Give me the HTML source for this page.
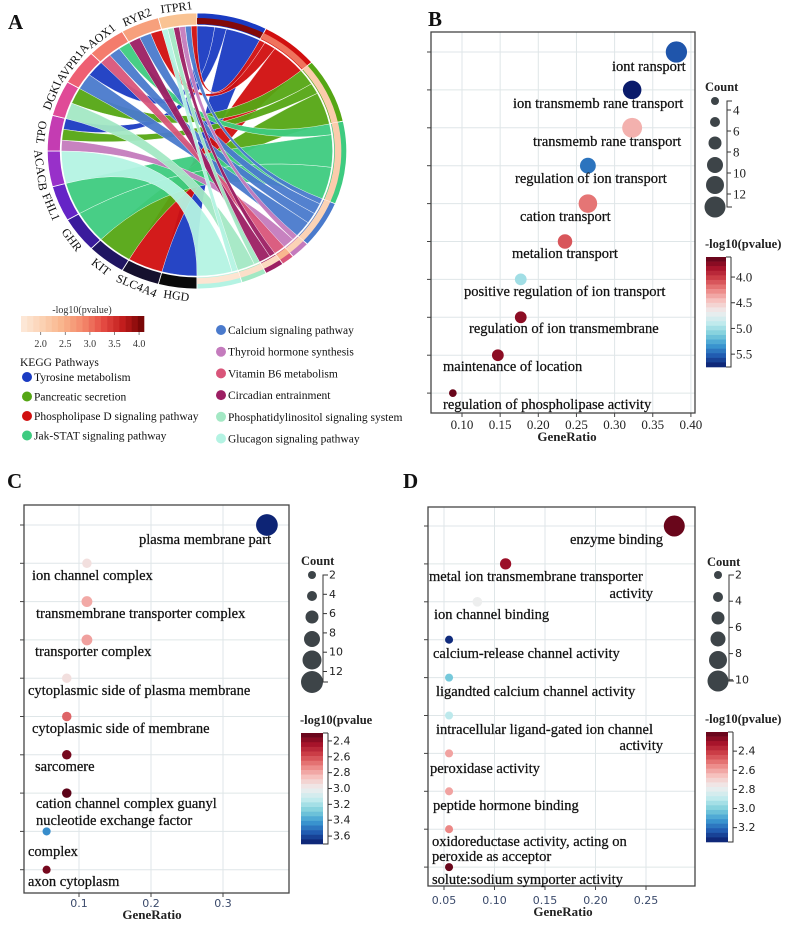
<!DOCTYPE html>
<html><head><meta charset="utf-8">
<style>
html,body{margin:0;padding:0;background:#fff;}
svg{display:block;font-family:"Liberation Serif",serif;}
</style></head>
<body>
<svg id="fig" width="791" height="931" viewBox="0 0 791 931" xmlns="http://www.w3.org/2000/svg"></svg>
<script>
// ---------- Panel A data ----------
const genes = ['HGD','SLC4A4','KIT','GHR','FHL1','ACACB','TPO','DGKI','AVPR1A','AOX1','RYR2','ITPR1'];
const pathways = ['Tyrosine metabolism','Phospholipase D signaling pathway','Pancreatic secretion','Jak-STAT signaling pathway','Calcium signaling pathway','Thyroid hormone synthesis','Vitamin B6 metabolism','Circadian entrainment','Phosphatidylinositol signaling system','Glucagon signaling pathway'];
const pathwayLogP = [4.0, 3.0, 2.1, 2.1, 2.0, 2.0, 2.4, 1.9, 1.8, 1.7];
const linkGene = ['HGD','SLC4A4','KIT','GHR','FHL1','ACACB','TPO','TPO','TPO','DGKI','DGKI','AVPR1A','AVPR1A','AOX1','AOX1','AOX1','RYR2','RYR2','RYR2','ITPR1','ITPR1','ITPR1','ITPR1','ITPR1','ITPR1'];
const linkPath = ['Tyrosine metabolism','Phospholipase D signaling pathway','Pancreatic secretion','Jak-STAT signaling pathway','Jak-STAT signaling pathway','Glucagon signaling pathway','Tyrosine metabolism','Thyroid hormone synthesis','Pancreatic secretion','Pancreatic secretion','Phosphatidylinositol signaling system','Calcium signaling pathway','Tyrosine metabolism','Jak-STAT signaling pathway','Vitamin B6 metabolism','Calcium signaling pathway','Phospholipase D signaling pathway','Calcium signaling pathway','Circadian entrainment','Phospholipase D signaling pathway','Calcium signaling pathway','Thyroid hormone synthesis','Circadian entrainment','Phosphatidylinositol signaling system','Glucagon signaling pathway'];
const linkWeight = [6,6,6,6,6,6,2,2,2,3,3,3,3,2,2,2,2,2,2,1,1,1,1,1,1];

// ---------- Panel B data ----------
const bTerms = ['iont ransport','ion transmemb rane transport','transmemb rane transport','regulation of ion transport','cation transport','metalion transport','positive regulation of ion transport','regulation of ion transmembrane','maintenance of location','regulation of phospholipase activity'];
const bRatio = [0.381,0.323,0.323,0.265,0.265,0.235,0.177,0.177,0.147,0.088];
const bCount = [13,11,12,9,11,8,6,6,6,3];
const bLogP = [5.55,5.75,4.4,5.45,4.2,4.1,5.0,3.75,3.75,3.65];
const bXTicks = [0.10,0.15,0.20,0.25,0.30,0.35,0.40];
const bCbTicks = [4.0,4.5,5.0,5.5];
const bCountTicks = [4,6,8,10,12];

// ---------- Panel C data ----------
const cTerms = ['plasma membrane part','ion channel complex','transmembrane transporter complex','transporter complex','cytoplasmic side of plasma membrane','cytoplasmic side of membrane','sarcomere','cation channel complex','guanyl nucleotide exchange factor complex','axon cytoplasm'];
const cRatio = [0.361,0.111,0.111,0.111,0.083,0.083,0.083,0.083,0.055,0.055];
const cCount = [12,3,4,4,3,3,3,3,2,2];
const cLogP = [3.68,2.95,2.8,2.78,2.95,2.65,2.35,2.3,3.45,2.35];
const cXTicks = [0.1,0.2,0.3];
const cCbTicks = [2.4,2.6,2.8,3.0,3.2,3.4,3.6];
const cCountTicks = [2,4,6,8,10,12];

// ---------- Panel D data ----------
const dTerms = ['enzyme binding','metal ion transmembrane transporter activity','ion channel binding','calcium-release channel activity','ligandted calcium channel activity','intracellular ligand-gated ion channel activity','peroxidase activity','peptide hormone binding','oxidoreductase activity, acting on peroxide as acceptor','solute:sodium symporter activity'];
const dRatio = [0.278,0.111,0.083,0.055,0.055,0.055,0.055,0.055,0.055,0.055];
const dCount = [10,4,3,2,2,2,2,2,2,2];
const dLogP = [2.22,2.3,2.78,3.32,3.02,2.9,2.6,2.6,2.55,2.22];
const dXTicks = [0.05,0.10,0.15,0.20,0.25];
const dCbTicks = [2.4,2.6,2.8,3.0,3.2];
const dCountTicks = [2,4,6,8,10];

const NS='http://www.w3.org/2000/svg';
const svg=document.getElementById('fig');
function mk(tag,attrs,parent){const e=document.createElementNS(NS,tag);for(const k in attrs)e.setAttribute(k,attrs[k]);(parent||svg).appendChild(e);return e;}
function txt(s,attrs,parent){const e=mk('text',attrs,parent);e.textContent=s;return e;}
function hex2rgb(h){return [parseInt(h.slice(1,3),16),parseInt(h.slice(3,5),16),parseInt(h.slice(5,7),16)];}
function interp(stops,t){t=Math.max(0,Math.min(1,t));const n=stops.length-1;const i=Math.min(n-1,Math.floor(t*n));const f=t*n-i;const a=hex2rgb(stops[i]),b=hex2rgb(stops[i+1]);return 'rgb('+a.map((v,k)=>Math.round(v+(b[k]-v)*f)).join(',')+')';}
const RDBU=['#5c0318','#a5122a','#d0434a','#ec8583','#f6c4c1','#efeeee','#c3ebee','#7fd0dc','#3d9bd2','#2059b0','#0a1b6b'];
const PEACH=['#fdebdc','#fbd2b4','#f9b58c','#f48a6c','#e54b43','#c01b1b','#6e0303'];

// ---------- Panel letters ----------
[['A',8,29],['B',428,26],['C',7,488],['D',403,488]].forEach(l=>{
  const t=txt(l[0],{x:l[1],y:l[2],'font-size':21,'font-weight':'bold',fill:'#111'});
  
  
});

// ---------- Panel A: chord ----------
(function(){
  const cx=197, cy=151, R=138, sx=1.085;
  const g=mk('g',{transform:`translate(${cx},${cy}) scale(${sx},1)`});
  
  
  const pColors={'Tyrosine metabolism':'#1a3bc2','Pancreatic secretion':'#55a614','Phospholipase D signaling pathway':'#d10f0f','Jak-STAT signaling pathway':'#3ecb80','Calcium signaling pathway':'#4a7acc','Thyroid hormone synthesis':'#c47bbd','Vitamin B6 metabolism':'#d9557a','Circadian entrainment':'#9c1f63','Phosphatidylinositol signaling system':'#a3e8c4','Glucagon signaling pathway':'#b4f3e3'};
  const gColors=['#0a0a0a','#15102e','#201562','#3a1b9c','#6524c6','#9830c9','#c43cb2','#e04a97','#ee5f72','#f47c6c','#f7a07c','#f9c393'];
  const P=(a,r)=>[r*Math.sin(a*Math.PI/180),-r*Math.cos(a*Math.PI/180)];
  const gTot=genes.map(gn=>linkWeight.reduce((s,w,i)=>s+(linkGene[i]===gn?w:0),0));
  const pTot=pathways.map(pn=>linkWeight.reduce((s,w,i)=>s+(linkPath[i]===pn?w:0),0));
  const total=linkWeight.reduce((a,b)=>a+b,0);
  const k=180/total;
  const gStart={},pStart={};let a=180;
  genes.forEach((gn,i)=>{gStart[gn]=a;a+=gTot[i]*k;});
  a=0;pathways.forEach((pn,i)=>{pStart[pn]=a;a+=pTot[i]*k;});
  const gCur=Object.assign({},gStart),pCur=Object.assign({},pStart);
  const ri=125;
  const idx=linkWeight.map((_,i)=>i);
  const gOrder=idx.slice().sort((x,y)=>genes.indexOf(linkGene[x])-genes.indexOf(linkGene[y])||pathways.indexOf(linkPath[y])-pathways.indexOf(linkPath[x]));
  const ga={},pa={};
  gOrder.forEach(i=>{ga[i]=[gCur[linkGene[i]],gCur[linkGene[i]]+linkWeight[i]*k];gCur[linkGene[i]]+=linkWeight[i]*k;});
  const pOrder=idx.slice().sort((x,y)=>pathways.indexOf(linkPath[x])-pathways.indexOf(linkPath[y])||genes.indexOf(linkGene[y])-genes.indexOf(linkGene[x]));
  pOrder.forEach(i=>{pa[i]=[pCur[linkPath[i]],pCur[linkPath[i]]+linkWeight[i]*k];pCur[linkPath[i]]+=linkWeight[i]*k;});
  idx.forEach(i=>{
    const [a0,a1]=ga[i],[b0,b1]=pa[i];
    const p0=P(a0,ri),p1=P(a1,ri),q0=P(b0,ri),q1=P(b1,ri);
    const d=`M${p0} A${ri} ${ri} 0 0 1 ${p1} Q0 0 ${q0} A${ri} ${ri} 0 0 1 ${q1} Q0 0 ${p0} Z`;
    const e=mk('path',{d:d,fill:pColors[linkPath[i]],'fill-opacity':0.95,stroke:'#fff','stroke-width':0.4},g);
    
    
  });
  function sector(a0,a1,r0,r1){const p0=P(a0,r1),p1=P(a1,r1),p2=P(a1,r0),p3=P(a0,r0);const lg=(a1-a0)>180?1:0;return `M${p0} A${r1} ${r1} 0 ${lg} 1 ${p1} L${p2} A${r0} ${r0} 0 ${lg} 0 ${p3} Z`;}
  genes.forEach((gn,i)=>{
    const e=mk('path',{d:sector(gStart[gn],gStart[gn]+gTot[i]*k,126,R),fill:gColors[i],stroke:'#fff','stroke-width':0.8},g);
    
    
  });
  pathways.forEach((pn,i)=>{
    const a0=pStart[pn],a1=a0+pTot[i]*k;
    const e=mk('path',{d:sector(a0,a1,126,R),fill:pColors[pn],stroke:'#fff','stroke-width':0.8},g);
    
    
    const b=mk('path',{d:sector(a0,a1,127,133),fill:interp(PEACH,(pathwayLogP[i]-1.6)/2.5)},g);
    
    
  });
  genes.forEach((gn,i)=>{
    const m=gStart[gn]+gTot[i]*k/2;
    const rr=R+3;
    const x=cx+sx*rr*Math.sin(m*Math.PI/180), y=cy-rr*Math.cos(m*Math.PI/180);
    const up=m>=270;
    const rot=up?m-360:m-180;
    const t=txt(gn,{x:x,y:y,'text-anchor':'middle','font-size':12,fill:'#111',transform:`rotate(${rot} ${x} ${y})`,'dominant-baseline':up?'auto':'hanging'});
    
    
  });
  const cbX0=21,cbX1=144,cbY=316,cbH=16,lo=1.6,hi=4.1;
  const steps=20;
  for(let s=0;s<steps;s++){
    const r=mk('rect',{x:cbX0+s*(cbX1-cbX0)/steps,y:cbY,width:(cbX1-cbX0)/steps+0.3,height:cbH,fill:interp(PEACH,(s+0.5)/steps)});
    
    
  }
  const ct=txt('-log10(pvalue)',{x:82,y:313,'text-anchor':'middle','font-size':10,fill:'#333'});
  
  
  [2.0,2.5,3.0,3.5,4.0].forEach(v=>{
    const x=cbX0+(v-lo)/(hi-lo)*(cbX1-cbX0);
    const l=mk('line',{x1:x,x2:x,y1:cbY+cbH,y2:cbY+cbH+3,stroke:'#666','stroke-width':0.8});
    
    
    const t=txt(v.toFixed(1),{x:x,y:347,'text-anchor':'middle','font-size':10,fill:'#333'});
    
    
  });
  const kt=txt('KEGG Pathways',{x:20,y:366,'font-size':11.5,fill:'#111'});
  
  
  const legL=[0,2,1,3], legR=[4,5,6,7,8,9];
  legL.forEach((pi,j)=>{
    const y=377+j*19.5;
    const c=mk('circle',{cx:27,cy:y,r:5,fill:pColors[pathways[pi]]});
    
    
    const t=txt(pathways[pi],{x:34,y:y+4,'font-size':11.5,fill:'#111'});
    
    
  });
  legR.forEach((pi,j)=>{
    const y=330+j*21.7;
    const c=mk('circle',{cx:221,cy:y,r:5,fill:pColors[pathways[pi]]});
    
    
    const t=txt(pathways[pi],{x:228,y:y+4,'font-size':11.5,fill:'#111'});
    
    
  });
})();

// ---------- Dot plot panels ----------
function dotPanel(cfg){
  const g=mk('g',{});
  
  
  const X=v=>cfg.x0+(v-cfg.v0)*cfg.kx;
  const Y=i=>cfg.row0+i*cfg.dy;
  const R=c=>cfg.ra+cfg.rb*c;
  const C=v=>interp(RDBU,(v-cfg.cb[0])/(cfg.cb[1]-cfg.cb[0]));
  cfg.xt.forEach(v=>{
    const l=mk('line',{x1:X(v),x2:X(v),y1:cfg.box[1],y2:cfg.box[3],stroke:'#dfe6e8','stroke-width':1},g);
    
    
  });
  cfg.terms.forEach((_,i)=>{
    const l=mk('line',{x1:cfg.box[0],x2:cfg.box[2],y1:Y(i),y2:Y(i),stroke:'#dfe6e8','stroke-width':1},g);
    
    
    const tk=mk('line',{x1:cfg.box[0]-4,x2:cfg.box[0],y1:Y(i),y2:Y(i),stroke:'#444','stroke-width':1},g);
    
    
  });
  const bx=mk('rect',{x:cfg.box[0],y:cfg.box[1],width:cfg.box[2]-cfg.box[0],height:cfg.box[3]-cfg.box[1],fill:'none',stroke:'#444','stroke-width':1.3},g);
  
  
  cfg.xt.forEach(v=>{
    const l=mk('line',{x1:X(v),x2:X(v),y1:cfg.box[3],y2:cfg.box[3]+4,stroke:'#444','stroke-width':1},g);
    
    
    const t=txt(v.toFixed(cfg.dec),{x:X(v),y:cfg.tickY,'text-anchor':'middle','font-size':cfg.tickFs,fill:cfg.tickCol,'font-family':cfg.tickFont},g);
    
    
  });
  const xt=txt('GeneRatio',{x:cfg.xtitle[0],y:cfg.xtitle[1],'text-anchor':'middle','font-size':13,'font-weight':'bold',fill:'#222'},g);
  
  
  cfg.terms.forEach((term,i)=>{
    const c=mk('circle',{cx:X(cfg.ratio[i]),cy:Y(i),r:R(cfg.count[i]),fill:C(cfg.logp[i])},g);
    
    
  });
  cfg.labels.forEach(l=>{
    const t=txt(l[3],{x:l[0],y:l[1],'text-anchor':l[2],'font-size':14.5,fill:'#111',stroke:'#111','stroke-width':0.25,'dominant-baseline':'central'},g);
    
    
  });
  const ct=txt('Count',{x:cfg.cnt.tx,y:cfg.cnt.ty,'font-size':12.5,'font-weight':'bold',fill:'#222'},g);
  
  
  cfg.cnt.r.forEach((r,j)=>{
    const c=mk('circle',{cx:cfg.cnt.cx,cy:cfg.cnt.cy[j],r:r,fill:'#3d4448'},g);
    
    
  });
  const al=mk('path',{d:`M${cfg.cnt.ax+5},${cfg.cnt.a0} H${cfg.cnt.ax} V${cfg.cnt.a1} H${cfg.cnt.ax+5}`,fill:'none',stroke:'#333','stroke-width':1},g);
  
  
  cfg.cntTicks.forEach((v,j)=>{
    const y=cfg.cnt.ty0+j*cfg.cnt.tdy;
    const l=mk('line',{x1:cfg.cnt.ax,x2:cfg.cnt.ax+4,y1:y,y2:y,stroke:'#333','stroke-width':1},g);
    
    
    const t=txt(String(v),{x:cfg.cnt.ax+6,y:y,'font-size':cfg.legFs,'font-family':cfg.legFont,fill:'#222','dominant-baseline':'central'},g);
    
    
  });
  const cb=cfg.cbBox;
  const n=24;
  for(let s=0;s<n;s++){
    const r=mk('rect',{x:cb[0],y:cb[1]+s*(cb[3]-cb[1])/n,width:cb[2]-cb[0],height:(cb[3]-cb[1])/n+0.3,fill:interp(RDBU,(s+0.5)/n)},g);
    
    
  }
  const cbt=txt(cfg.cbTitle,{x:cb[0]-1,y:cb[1]-9,'font-size':12.5,'font-weight':'bold',fill:'#222'},g);
  
  
  const cal=mk('path',{d:`M${cb[2]},${cb[1]} H${cb[2]+5} M${cb[2]+5},${cb[1]} V${cb[3]} H${cb[2]}`,fill:'none',stroke:'#333','stroke-width':1},g);
  
  
  cfg.cbTicks.forEach(v=>{
    const y=cb[1]+(v-cfg.cb[0])/(cfg.cb[1]-cfg.cb[0])*(cb[3]-cb[1]);
    const l=mk('line',{x1:cb[2]+5,x2:cb[2]+9,y1:y,y2:y,stroke:'#333','stroke-width':1},g);
    
    
    const t=txt(v.toFixed(1),{x:cb[2]+10,y:y,'font-size':cfg.legFs,'font-family':cfg.legFont,fill:'#222','dominant-baseline':'central'},g);
    
    
  });
}

dotPanel({name:'panel-b-go-bp',terms:bTerms,ratio:bRatio,count:bCount,logp:bLogP,xt:bXTicks,cbTicks:bCbTicks,cntTicks:bCountTicks,
  x0:462,v0:0.10,kx:763,row0:52,dy:37.9,box:[431,32,695,413],ra:1.8,rb:0.68,cb:[3.61,5.75],
  dec:2,tickY:429,tickFs:13,tickCol:'#222',tickFont:'Liberation Serif',xtitle:[567,441],
  legFs:13,legFont:'Liberation Serif',cbTitle:'-log10(pvalue)',cbBox:[706,257,726,367],
  cnt:{tx:705,ty:91,cx:715,cy:[101,122,143,165,185,207],r:[4,5,6.5,8,9,10.5],ax:727,a0:101,a1:207,ty0:110,tdy:21},
  labels:[[612,67,'start','iont ransport'],[513,104,'start','ion transmemb rane transport'],[533,142,'start','transmemb rane transport'],[515,179,'start','regulation of ion transport'],[520,217,'start','cation transport'],[512,254,'start','metalion transport'],[464,292,'start','positive regulation of ion transport'],[469,329,'start','regulation of ion transmembrane'],[443,367,'start','maintenance of location'],[443,405,'start','regulation of phospholipase activity']]});

dotPanel({name:'panel-c-go-cc',terms:cTerms,ratio:cRatio,count:cCount,logp:cLogP,xt:cXTicks,cbTicks:cCbTicks,cntTicks:cCountTicks,
  x0:79,v0:0.1,kx:720,row0:525,dy:38.3,box:[24,505,289,893],ra:2.7,rb:0.68,cb:[2.3,3.7],
  dec:1,tickY:907,tickFs:11,tickCol:'#3b4a6b',tickFont:'DejaVu Sans',xtitle:[152,919],
  legFs:11,legFont:'DejaVu Sans',cbTitle:'-log10(pvalue',cbBox:[301,733,323,844],
  cnt:{tx:301,ty:565,cx:312,cy:[575,596,617,639,660,682],r:[4,5,6.5,8,9.5,11],ax:323,a0:575,a1:682,ty0:575,tdy:19.3},
  labels:[[139,540,'start','plasma membrane part'],[32,576,'start','ion channel complex'],[36,614,'start','transmembrane transporter complex'],[35,652,'start','transporter complex'],[28,691,'start','cytoplasmic side of plasma membrane'],[32,729,'start','cytoplasmic side of membrane'],[35,767,'start','sarcomere'],[36,804,'start','cation channel complex guanyl'],[36,821,'start','nucleotide exchange factor'],[28,852,'start','complex'],[28,882,'start','axon cytoplasm']]});

dotPanel({name:'panel-d-go-mf',terms:dTerms,ratio:dRatio,count:dCount,logp:dLogP,xt:dXTicks,cbTicks:dCbTicks,cntTicks:dCountTicks,
  x0:444,v0:0.05,kx:1010,row0:526,dy:37.9,box:[428,507,695,886],ra:2.4,rb:0.81,cb:[2.2,3.35],
  dec:2,tickY:904,tickFs:11,tickCol:'#3b4a6b',tickFont:'DejaVu Sans',xtitle:[563,916],
  legFs:11,legFont:'DejaVu Sans',cbTitle:'-log10(pvalue)',cbBox:[706,732,728,842],
  cnt:{tx:707,ty:566,cx:718,cy:[575,597,618,639,660,681],r:[4,5,6.5,7.5,9,10.5],ax:729,a0:575,a1:681,ty0:575,tdy:26.2},
  labels:[[570,540,'start','enzyme binding'],[429,577,'start','metal ion transmembrane transporter'],[653,594,'end','activity'],[434,615,'start','ion channel binding'],[433,654,'start','calcium-release channel activity'],[436,692,'start','ligandted calcium channel activity'],[436,730,'start','intracellular ligand-gated ion channel'],[663,746,'end','activity'],[430,769,'start','peroxidase activity'],[433,806,'start','peptide hormone binding'],[432,842,'start','oxidoreductase activity, acting on'],[432,857,'start','peroxide as acceptor'],[432,880,'start','solute:sodium symporter activity']]});
</script>
</body></html>
